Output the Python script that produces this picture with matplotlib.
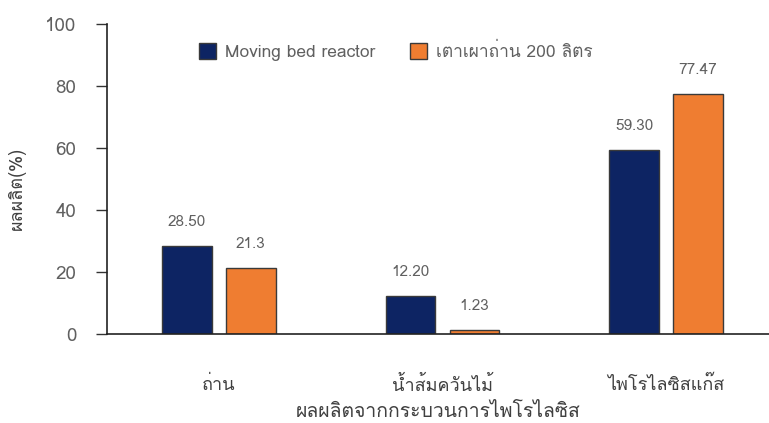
import matplotlib
matplotlib.use("Agg")
import matplotlib.pyplot as plt
import numpy as np
from matplotlib import font_manager
from matplotlib.ft2font import FT2Font

categories = ["ถ่าน", "น้ำส้มควันไม้", "ไพโรไลซิสแก๊ส"]
series_names = ["Moving bed reactor", "เตาเผาถ่าน 200 ลิตร"]
moving_bed = [28.50, 12.20, 59.30]
kiln_200l = [21.3, 1.23, 77.47]
moving_bed_labels = ["28.50", "12.20", "59.30"]
kiln_200l_labels = ["21.3", "1.23", "77.47"]
yticks = [0, 20, 40, 60, 80, 100]

NAVY = "#0d2463"
ORANGE = "#ef7d31"
EDGE = "#3a3a3a"
GREY = "#606060"


def thai_families():
    """Installed families that actually carry Thai glyphs."""
    found = []
    for f in font_manager.fontManager.ttflist:
        try:
            if FT2Font(f.fname).get_char_index(0x0E01) and f.name not in found:
                found.append(f.name)
        except Exception:
            pass
    return found


fams = thai_families()
plt.rcParams["font.family"] = fams + ["DejaVu Sans"]

fig = plt.figure(figsize=(7.69, 4.23), dpi=100)
ax = fig.add_axes([107 / 769, 1 - 334 / 423, (769 - 107) / 769, (334 - 24) / 423])

x = np.arange(len(categories))
w = 0.223
off = 0.143
b1 = ax.bar(x - off, moving_bed, w, color=NAVY, edgecolor=EDGE, linewidth=1.0, label=series_names[0])
b2 = ax.bar(x + off, kiln_200l, w, color=ORANGE, edgecolor=EDGE, linewidth=1.0, label=series_names[1])

for bars, labels in ((b1, moving_bed_labels), (b2, kiln_200l_labels)):
    for r, t in zip(bars, labels):
        ax.text(r.get_x() + r.get_width() / 2, r.get_height() + 5.5, t,
                ha="center", va="bottom", fontsize=11, color=GREY)

ax.set_xlim(-0.5, 2.46)
ax.set_ylim(0, 100)
ax.set_yticks(yticks)
ax.set_xticks(x)
ax.set_xticklabels(categories, fontsize=13, color="#404040")
ax.tick_params(axis="x", length=0, pad=30)
ax.tick_params(axis="y", length=8, width=1, colors="#333333", labelsize=13.5,
               labelcolor=GREY, pad=14)
for s in ("top", "right"):
    ax.spines[s].set_visible(False)
for s in ("left", "bottom"):
    ax.spines[s].set_color("#222222")
    ax.spines[s].set_linewidth(1.2)

ax.set_ylabel("ผลผลิต(%)", fontsize=13, color="#404040")
ax.yaxis.set_label_coords(-0.122, 0.47)
ax.set_xlabel("ผลผลิตจากกระบวนการไพโรไลซิส", fontsize=14, color="#404040", labelpad=6)

ax.legend(loc="upper left", bbox_to_anchor=(0.115, 0.99), ncol=2, frameon=False,
          fontsize=12.5, handlelength=1.0, handleheight=1.0, columnspacing=2.0,
          handletextpad=0.5, labelcolor=GREY)

fig.savefig("out.png", dpi=100)
